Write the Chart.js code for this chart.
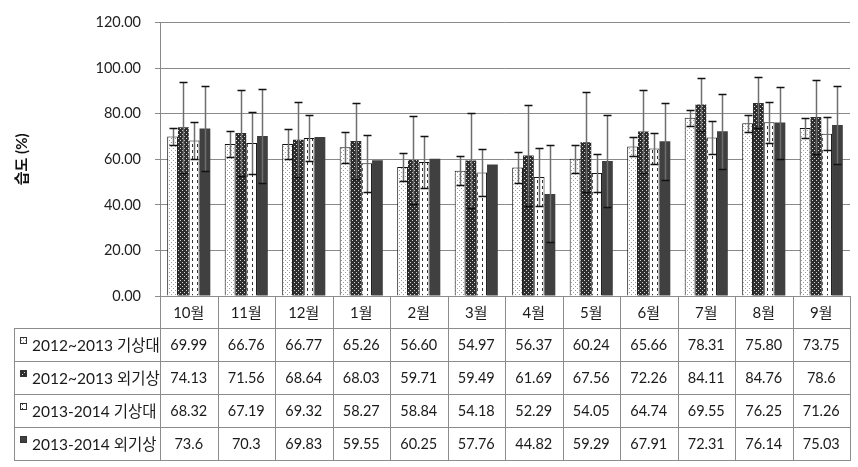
<!DOCTYPE html>
<html>
<head>
<meta charset="utf-8">
<script src="https://cdn.jsdelivr.net/npm/chart.js@4.4.1/dist/chart.umd.min.js"></script>
<style>
html,body{margin:0;padding:0;background:#fff;}
#wrap{position:relative;width:858px;height:467px;}
</style>
</head>
<body>
<div id="wrap"><canvas id="c" width="858" height="467"></canvas></div>
<script>
// ---- data ----
const months = ['10월','11월','12월','1월','2월','3월','4월','5월','6월','7월','8월','9월'];
const seriesNames = ['2012~2013 기상대','2012~2013 외기상','2013-2014 기상대','2013-2014 외기상'];
const s1 = ['69.99','66.76','66.77','65.26','56.60','54.97','56.37','60.24','65.66','78.31','75.80','73.75'];
const s2 = ['74.13','71.56','68.64','68.03','59.71','59.49','61.69','67.56','72.26','84.11','84.76','78.6'];
const s3 = ['68.32','67.19','69.32','58.27','58.84','54.18','52.29','54.05','64.74','69.55','76.25','71.26'];
const s4 = ['73.6','70.3','69.83','59.55','60.25','57.76','44.82','59.29','67.91','72.31','76.14','75.03'];
// error bar (± deviation)
const e1 = [3.9, 5.8, 6.6, 6.8, 6.0, 6.4, 6.8, 6.2, 4.3, 3.5, 3.7, 4.5];
const e2 = [20.0, 18.8, 16.5, 16.7, 19.3, 21.0, 22.2, 21.8, 18.3, 11.6, 11.2, 16.2];
const e3 = [8.2, 13.8, 10.1, 12.6, 11.3, 10.2, 12.7, 8.2, 6.7, 7.3, 9.0, 7.3];
const e4 = [18.8, 20.7, 0, 0, 0, 0, 21.3, 20.2, 17.0, 16.5, 15.8, 17.2];
const yTicks = [0, 20, 40, 60, 80, 100, 120];

const allSeries = [s1, s2, s3, s4];
const allErr = [e1, e2, e3, e4];

// ---- patterns ----
function mkPattern(w, h, draw) {
  const c = document.createElement('canvas');
  c.width = w; c.height = h;
  const g = c.getContext('2d');
  draw(g);
  return g.createPattern(c, 'repeat');
}
const pat1 = mkPattern(4, 4, g => {
  g.fillStyle = '#fff'; g.fillRect(0, 0, 4, 4);
  g.fillStyle = '#9a9a9a'; g.fillRect(1, 0, 1, 1); g.fillRect(3, 2, 1, 1);
});
const pat2 = mkPattern(4, 4, g => {
  g.fillStyle = '#2e2e2e'; g.fillRect(0, 0, 4, 4);
  g.fillStyle = '#d8d8d8'; g.fillRect(0, 0, 1, 1); g.fillRect(2, 2, 1, 1);
});
const pat3 = mkPattern(5, 6, g => {
  g.fillStyle = '#fff'; g.fillRect(0, 0, 5, 6);
  g.fillStyle = '#333'; g.fillRect(2, 0, 1, 3);
});
const fills = [pat1, pat2, pat3, '#404040'];
const swatchFills = [pat1, pat2, pat3, '#404040'];

const FONT = "Lato, 'Noto Sans CJK KR', sans-serif";

// ---- error bars plugin ----
const errorBars = {
  id: 'errorBars',
  afterDatasetsDraw(chart) {
    const c = chart.ctx, ys = chart.scales.y;
    chart.data.datasets.forEach((ds, di) => {
      const meta = chart.getDatasetMeta(di);
      meta.data.forEach((bar, i) => {
        const v = Number(allSeries[di][i]), e = allErr[di][i];
        if (!e) return;
        const x = Math.round(bar.x) + 0.5;
        const yt = Math.round(ys.getPixelForValue(v + e)) + 0.5;
        const yb = Math.round(ys.getPixelForValue(v - e)) + 0.5;
        c.save();
        c.strokeStyle = '#6e6e6e'; c.lineWidth = 1.5;
        c.beginPath(); c.moveTo(x, yt); c.lineTo(x, yb); c.stroke();
        c.strokeStyle = '#111'; c.lineWidth = 1.5;
        c.beginPath();
        c.moveTo(x - 4, yt); c.lineTo(x + 4, yt);
        c.moveTo(x - 4, yb); c.lineTo(x + 4, yb);
        c.stroke();
        c.restore();
      });
    });
  }
};

// ---- data table plugin ----
const dataTable = {
  id: 'dataTable',
  afterDraw(chart) {
    const c = chart.ctx, xs = chart.scales.x;
    const area = chart.chartArea;
    const left = area.left, right = area.right;
    const top = area.bottom;
    const tableLeft = 14;
    const rows = [top, top + 32, top + 65, top + 98, top + 131, top + 164];
    const n = months.length;
    const cw = (right - left) / n;
    c.save();
    c.strokeStyle = '#8c8c8c'; c.lineWidth = 1;
    c.beginPath();
    c.moveTo(left, rows[0] + 0.5); c.lineTo(right, rows[0] + 0.5);
    for (let r = 1; r < rows.length; r++) {
      c.moveTo(tableLeft, rows[r] + 0.5); c.lineTo(right, rows[r] + 0.5);
    }
    for (let k = 0; k <= n; k++) {
      const x = Math.round(left + k * cw) + 0.5;
      c.moveTo(x, rows[0]); c.lineTo(x, rows[rows.length - 1] + 1);
    }
    c.moveTo(tableLeft + 0.5, rows[1]); c.lineTo(tableLeft + 0.5, rows[rows.length - 1] + 1);
    c.stroke();

    c.fillStyle = '#1a1a1a';
    c.textBaseline = 'middle';
    c.textAlign = 'center';
    c.font = '15px ' + FONT;
    months.forEach((m, i) => {
      const cx = xs.getPixelForValue(i);
      c.fillText(m, cx, (rows[0] + rows[1]) / 2 + 1);
    });
    allSeries.forEach((s, si) => {
      const cy = (rows[si + 1] + rows[si + 2]) / 2 + 1;
      c.textAlign = 'center';
      c.font = '14.5px ' + FONT;
      s.forEach((v, i) => {
        c.fillText(v, xs.getPixelForValue(i), cy);
      });
      const sx = 20, sy = rows[si + 1] + 9;
      c.fillStyle = swatchFills[si];
      c.fillRect(sx, sy, 7, 7);
      c.strokeStyle = '#333';
      c.strokeRect(sx + 0.5, sy + 0.5, 6, 6);
      c.fillStyle = '#1a1a1a';
      c.textAlign = 'left';
      c.font = '15.5px ' + FONT;
      c.fillText(seriesNames[si], 32, cy);
    });
    c.restore();
  }
};

new Chart(document.getElementById('c'), {
  type: 'bar',
  data: {
    labels: months,
    datasets: allSeries.map((s, i) => ({
      label: seriesNames[i],
      data: s.map(Number),
      backgroundColor: fills[i],
      borderColor: (i === 0 || i === 2) ? '#111' : '#2a2a2a',
      borderWidth: (i === 0 || i === 2) ? 1 : 0,
      borderSkipped: 'bottom'
    }))
  },
  options: {
    responsive: false,
    animation: false,
    devicePixelRatio: 1,
    layout: { padding: { top: 22, right: 8, left: 0, bottom: 0 } },
    plugins: { legend: { display: false }, tooltip: { enabled: false } },
    datasets: { bar: { categoryPercentage: 0.75, barPercentage: 1.0 } },
    scales: {
      x: {
        ticks: { display: false },
        grid: { display: false, drawTicks: false },
        border: { display: false },
        afterFit(scale) { scale.height = 171; }
      },
      y: {
        min: 0, max: 120,
        afterBuildTicks(scale) { scale.ticks = yTicks.map(v => ({ value: v })); },
        ticks: {
          padding: 14,
          color: '#222',
          font: { family: FONT, size: 14.5 },
          callback: v => Number(v).toFixed(2)
        },
        grid: { color: '#8a8a8a', tickLength: 5, lineWidth: 1 },
        border: { display: true, color: '#8a8a8a' },
        title: {
          display: true,
          text: '습도 (%)',
          color: '#111',
          font: { family: FONT, size: 15, weight: 'bold' },
          padding: { top: 13, bottom: 0 }
        },
        afterFit(scale) { scale.width = 160; }
      }
    }
  },
  plugins: [errorBars, dataTable]
});
</script>
</body>
</html>
